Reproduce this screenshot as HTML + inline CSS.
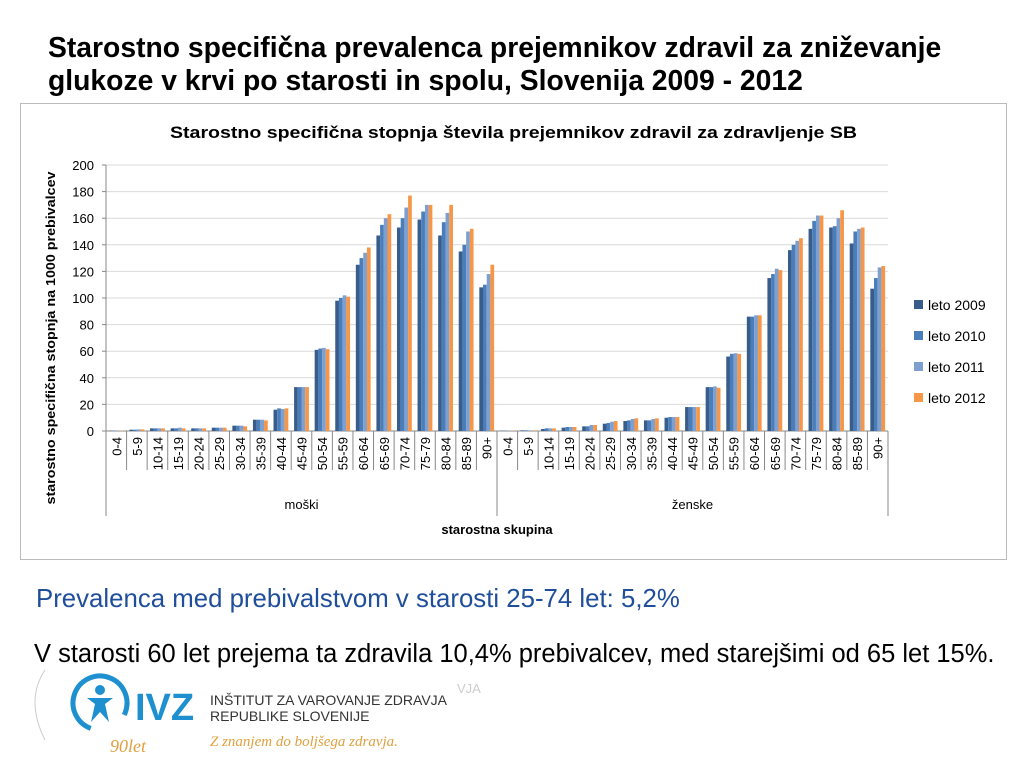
<!DOCTYPE html>
<html><head><meta charset="utf-8"><style>
body{margin:0;width:1024px;height:768px;background:#fff;overflow:hidden;position:relative;font-family:"Liberation Sans",sans-serif}
.t{position:absolute}
</style></head><body>
<div class="t" style="left:48px;top:31px;font-size:28.3px;font-weight:bold;line-height:33px;color:#000;white-space:nowrap">Starostno specifična prevalenca prejemnikov zdravil za zniževanje<br>glukoze v krvi po starosti in spolu, Slovenija 2009 - 2012</div>
<svg class="t" style="left:0;top:0" width="1024" height="768" id="chart"></svg>
<div class="t" style="left:36px;top:585px;font-size:25.8px;color:#1f4e9a;white-space:nowrap">Prevalenca med prebivalstvom v starosti 25-74 let: 5,2%</div>
<div class="t" style="left:34px;top:640px;font-size:25.5px;color:#000;white-space:nowrap">V starosti 60 let prejema ta zdravila 10,4% prebivalcev, med starejšimi od 65 let 15%.</div>
<svg class="t" style="left:25px;top:660px" width="480" height="100">
<path d="M20 10 Q0 40 20 80" stroke="#ccc" fill="none"/>
<circle cx="75" cy="43" r="27" stroke="#1e90d0" stroke-width="5" fill="none" stroke-dasharray="130 40" transform="rotate(110 75 43)"/>
<circle cx="75" cy="30" r="5" fill="#1e90d0"/>
<path d="M62 38 L88 38 L80 44 L84 62 L75 52 L66 62 L70 44 Z" fill="#1e90d0"/>
<text x="110" y="60" font-size="38" font-weight="bold" fill="#1e90d0" font-family="Liberation Sans,sans-serif">IVZ</text>
<text x="85" y="92" font-size="18" font-style="italic" fill="#e0a040" font-family="Liberation Serif,serif">90let</text>
<text x="185" y="45" font-size="14" fill="#333">INŠTITUT ZA VAROVANJE ZDRAVJA</text>
<text x="185" y="61" font-size="14" fill="#333">REPUBLIKE SLOVENIJE</text>
<text x="185" y="86" font-size="15" font-style="italic" fill="#e0a040" font-family="Liberation Serif,serif">Z znanjem do boljšega zdravja.</text>
<text x="432" y="33" font-size="13" fill="#ccc">VJA</text>
</svg>
<script>
const ages=["0-4","5-9","10-14","15-19","20-24","25-29","30-34","35-39","40-44","45-49","50-54","55-59","60-64","65-69","70-74","75-79","80-84","85-89","90+"];
const groups=["moški","ženske"];
const seriesNames=["leto 2009","leto 2010","leto 2011","leto 2012"];
const colors=["#385d8a","#4a7ebb","#7f9fcf","#f79646"];
const yTicks=[0,20,40,60,80,100,120,140,160,180,200];
const m2009=[0.3,1,2,2,2,2.5,4,8.5,16,33,61,98,125,147,153,159,147,135,108];
const m2010=[0.3,1,2,2,2,2.5,4,8.5,17,33,62,100,130,155,160,165,157,140,110];
const m2011=[0.3,1.2,2,2.5,2,2.5,4,8.5,16.5,33,62.5,102,134,160,168,170,164,150,118];
const m2012=[0.3,1.2,2,2,2,2.5,3.5,8,17,33,61.5,101,138,163,177,170,170,152,125];
const f2009=[0.2,0.5,1.5,2.5,3.5,5.5,7.5,8,10,18,33,56,86,115,136,152,153,141,107];
const f2010=[0.2,0.5,2,3,3.5,6,8,8,10.5,18,33,58,86,118,140,158,154,150,115];
const f2011=[0.2,0.5,2,3,4.5,7,9,9,10.5,18,33.5,58.5,87,122,143,162,160,152,123];
const f2012=[0.2,0.5,2,3,4.5,7.5,9.5,9.5,10.5,18,32.5,58,87,121,145,162,166,153,124];
const data=[[m2009,m2010,m2011,m2012],[f2009,f2010,f2011,f2012]];
const svg=document.getElementById('chart');const NS='http://www.w3.org/2000/svg';
function mk(t,a,p){const e=document.createElementNS(NS,t);for(const k in a)e.setAttribute(k,a[k]);(p||svg).appendChild(e);return e;}
const X0=106,X1=888,Y0=431,Y1=165,N=ages.length*2,cw=(X1-X0)/N;
const y=v=>Y0-(v/200)*(Y0-Y1);const xc=i=>X0+cw*i;
let e=mk('rect',{x:20.5,y:103.5,width:986,height:456,fill:'#fff',stroke:'#bbb'});

e=mk('text',{x:170,y:138,'font-size':17,'font-weight':'bold',textLength:687,lengthAdjust:'spacingAndGlyphs'});e.textContent='Starostno specifična stopnja števila prejemnikov zdravil za zdravljenje SB';

yTicks.forEach(t=>{
 if(t>0){e=mk('line',{x1:X0,x2:X1,y1:y(t),y2:y(t),stroke:'#d9d9d9'});}
 e=mk('line',{x1:X0-4,x2:X0,y1:y(t),y2:y(t),stroke:'#888'});
 e=mk('text',{x:X0-12,y:y(t)+5,'text-anchor':'end','font-size':13});e.textContent=t;
 
});
mk('line',{x1:X0,x2:X0,y1:Y1,y2:Y0,stroke:'#888'});
mk('line',{x1:X0,x2:X1,y1:Y0,y2:Y0,stroke:'#888'});
const bw=cw*0.18;
data.forEach((g,gi)=>{g.forEach((s,si)=>{s.forEach((v,i)=>{
 const c=gi*ages.length+i;const bx=xc(c)+cw*0.14+si*bw;
 const r=mk('rect',{x:bx,y:y(v),width:bw,height:Y0-y(v),fill:colors[si]});
 
 
});});
 ages.forEach((a,i)=>{const c=gi*ages.length+i;
  const t=mk('text',{x:0,y:0,'text-anchor':'end','font-size':13,transform:`translate(${xc(c)+cw/2+5},${Y0+6}) rotate(-90)`});t.textContent=a;
  
 });
 const gt=mk('text',{x:xc(gi*ages.length+ages.length/2),y:509,'text-anchor':'middle','font-size':13});gt.textContent=groups[gi];
 
});
for(let c=0;c<=N;c++){const big=(c%ages.length===0);mk('line',{x1:xc(c),x2:xc(c),y1:Y0,y2:big?516:470,stroke:'#888'});}
e=mk('text',{x:497,y:534,'text-anchor':'middle','font-size':13,'font-weight':'bold'});e.textContent='starostna skupina';

e=mk('text',{x:0,y:0,'text-anchor':'middle','font-size':13,'font-weight':'bold',textLength:333,lengthAdjust:'spacingAndGlyphs',transform:'translate(55,338) rotate(-90)'});e.textContent='starostno specifična stopnja na 1000 prebivalcev';

seriesNames.forEach((n,i)=>{const ly=305+i*31;
 const r=mk('rect',{x:914,y:ly-5,width:9,height:9,fill:colors[i]});
 const t=mk('text',{x:928,y:ly+5,'font-size':14});t.textContent=n;
});
</script>
</body></html>
